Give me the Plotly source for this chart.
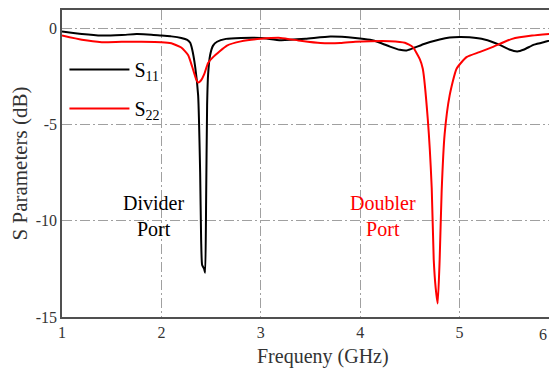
import plotly.graph_objects as go

freq_s11 = [1.00, 1.2, 1.4, 1.6, 1.75, 1.9, 2.0, 2.1, 2.2, 2.26, 2.29, 2.31, 2.34, 2.37, 2.39, 2.40,
            2.41, 2.43, 2.44, 2.45, 2.46, 2.47, 2.49, 2.52, 2.56, 2.65, 2.8, 3.0, 3.2, 3.45, 3.7,
            3.95, 4.1, 4.2, 4.3, 4.4, 4.47, 4.55, 4.65, 4.8, 4.9, 5.0, 5.1, 5.25, 5.4, 5.5, 5.58,
            5.65, 5.75, 5.87, 6.0]
s11 = [-0.17, -0.3, -0.38, -0.35, -0.3, -0.33, -0.38, -0.42, -0.5, -0.6, -0.75, -1.1, -2.0, -3.5,
       -7.5, -11.0, -12.3, -12.5, -12.7, -9.0, -4.0, -2.4, -1.4, -0.9, -0.7, -0.55, -0.5, -0.5,
       -0.62, -0.55, -0.43, -0.5, -0.6, -0.75, -0.95, -1.12, -1.15, -1.0, -0.8, -0.58, -0.48,
       -0.45, -0.47, -0.58, -0.85, -1.1, -1.2, -1.1, -0.85, -0.69, -0.52]

freq_s22 = [1.0, 1.2, 1.4, 1.6, 1.8, 2.0, 2.1, 2.2, 2.27, 2.31, 2.35, 2.37, 2.40, 2.43, 2.47, 2.52,
            2.66, 2.8, 3.0, 3.2, 3.4, 3.6, 3.8, 3.95, 4.1, 4.3, 4.45, 4.53, 4.6, 4.63, 4.68, 4.72,
            4.74, 4.76, 4.78, 4.80, 4.82, 4.85, 4.90, 4.97, 5.07, 5.2, 5.33, 5.53, 5.73, 6.0]
s22 = [-0.38, -0.6, -0.72, -0.7, -0.7, -0.72, -0.78, -1.0, -1.4, -2.0, -2.65, -2.82, -2.7, -2.4,
       -1.8, -1.5, -0.9, -0.68, -0.55, -0.5, -0.65, -0.77, -0.77, -0.7, -0.67, -0.67, -0.75,
       -0.98, -1.6, -2.1, -4.7, -8.3, -12.0, -13.5, -14.3, -12.0, -8.45, -5.5, -3.5, -2.1, -1.5,
       -1.24, -0.98, -0.55, -0.38, -0.25]

x_ticks = [1, 2, 3, 4, 5, 6]
y_ticks = [0, -5, -10, -15]

FONT = "Liberation Serif"

fig = go.Figure()
fig.add_trace(go.Scatter(x=freq_s11, y=s11, mode="lines", name="S<sub>11</sub>",
                         legendgroup="a",
                         line=dict(color="#000000", width=2, shape="spline", smoothing=0.5)))
fig.add_trace(go.Scatter(x=freq_s22, y=s22, mode="lines", name="S<sub>22</sub>",
                         legendgroup="b",
                         line=dict(color="#ff0000", width=2, shape="spline", smoothing=0.5)))

fig.add_annotation(x=1.92, y=-9.75, text="Divider<br>Port", showarrow=False,
                   font=dict(family=FONT, size=20, color="#000000"))
fig.add_annotation(x=4.23, y=-9.75, text="Doubler<br>Port", showarrow=False,
                   font=dict(family=FONT, size=20, color="#ff0000"))
# x-axis title (annotation to match the reference's horizontal offset)
fig.add_annotation(x=0.535, y=0, xref="paper", yref="paper", yshift=-39,
                   xanchor="center", yanchor="middle", text="Frequeny (GHz)", showarrow=False,
                   font=dict(family=FONT, size=20, color="#333333"))
# last tick label, which sits at the very right edge of the (cropped) axis
fig.add_annotation(x=1, y=0, xref="paper", yref="paper", yshift=-17,
                   xanchor="right", yanchor="middle", text=str(x_ticks[-1]), showarrow=False,
                   font=dict(family=FONT, size=16, color="#333333"))

axis_common = dict(
    showgrid=True, gridcolor="#a0a0a0", gridwidth=1, griddash="10px,3px,2px,3px",
    showline=True, linecolor="#505050", linewidth=1.5,
    zeroline=False, ticks="", tickfont=dict(family=FONT, size=16, color="#333333"),
)

fig.update_xaxes(range=[1, 5.9], tickvals=x_ticks[:-1], ticktext=[str(v) for v in x_ticks[:-1]],
                 mirror=True,
                 **axis_common)
fig.update_yaxes(range=[-15, 0.95], tickvals=y_ticks, ticktext=[str(v) for v in y_ticks],
                 mirror=False,
                 title=dict(text="S Parameters (dB)", font=dict(family=FONT, size=21, color="#333333"),
                            standoff=9),
                 **axis_common)

fig.update_layout(
    width=541, height=362,
    margin=dict(l=54, r=0, t=0, b=53),
    paper_bgcolor="white", plot_bgcolor="white",
    font=dict(family=FONT),
    showlegend=True,
    legend=dict(x=0.005, y=0.87, xanchor="left", yanchor="top",
                bgcolor="rgba(0,0,0,0)", borderwidth=0,
                font=dict(family=FONT, size=20, color="#000000"),
                tracegroupgap=10, itemwidth=60),
)

fig.write_html("out.html")
